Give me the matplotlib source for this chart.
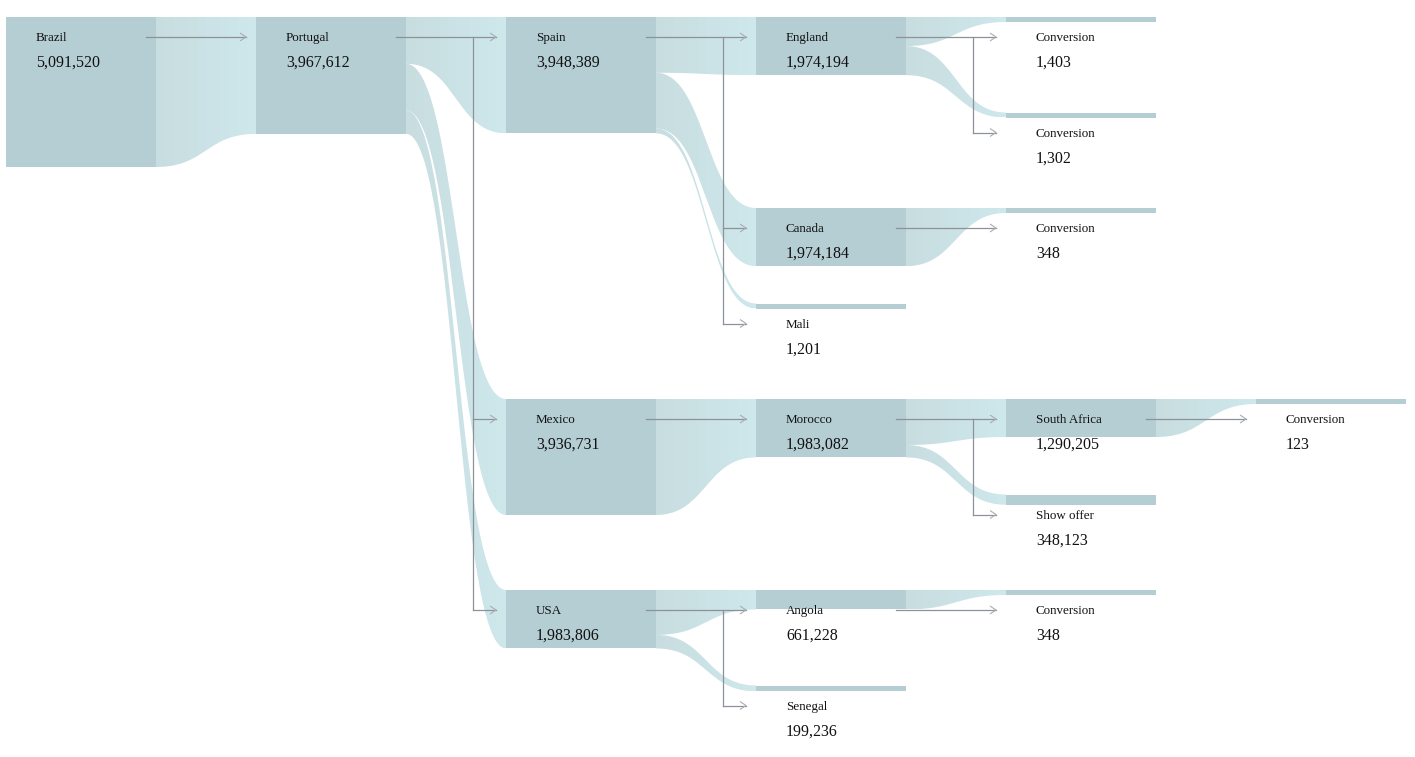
import numpy as np
import matplotlib
matplotlib.use("Agg")
import matplotlib.pyplot as plt
from matplotlib.path import Path
from matplotlib.patches import PathPatch, Rectangle
from matplotlib.colors import LinearSegmentedColormap

# ---- data ----
names = ["Brazil", "Portugal", "Spain", "England", "Conversion", "Conversion",
         "Canada", "Conversion", "Mali", "Mexico", "Morocco", "South Africa",
         "Conversion", "Show offer", "USA", "Angola", "Conversion", "Senegal"]
values = [5091520, 3967612, 3948389, 1974194, 1403, 1302,
          1974184, 348, 1201, 3936731, 1983082, 1290205,
          123, 348123, 1983806, 661228, 348, 199236]
parents = [-1, 0, 1, 2, 3, 3, 2, 6, 2, 1, 9, 10, 11, 10, 1, 14, 15, 14]

# ---- style / layout ----
W, H = 1415, 757
NODE_W = 150
COL_STEP = 250
X0 = 6
TOP = 17
ROW_STEP = 95.5
MAX_H = 150
MIN_H = 5
NODE_COLOR = "#b5ced3"
LINK_LEFT = "#c8dde0"
LINK_RIGHT = "#cee8ec"
LINE_COLOR = "#8d9298"
HEAD_COLOR = "#a9adb2"
SERIF = ["Liberation Serif", "DejaVu Serif"]

n = len(names)
children = [[] for _ in range(n)]
for i, p in enumerate(parents):
    if p >= 0:
        children[p].append(i)

depth = [0] * n
for i in range(n):
    if parents[i] >= 0:
        depth[i] = depth[parents[i]] + 1

# rows: tree layout (node row = row of its first leaf)
row = [0] * n
counter = [0]
def assign(i):
    if not children[i]:
        row[i] = counter[0]
        counter[0] += 1
    else:
        for k, c in enumerate(children[i]):
            assign(c)
        row[i] = row[children[i][0]]
assign(0)

vmax = max(values)
x = [X0 + depth[i] * COL_STEP for i in range(n)]
y = [TOP + row[i] * ROW_STEP for i in range(n)]
h = [max(MIN_H, values[i] / vmax * MAX_H) for i in range(n)]

fig = plt.figure(figsize=(W / 100, H / 100), dpi=100)
ax = fig.add_axes([0, 0, 1, 1])
ax.set_xlim(0, W)
ax.set_ylim(H, 0)
ax.axis("off")

cmap = LinearSegmentedColormap.from_list("lk", [LINK_LEFT, LINK_RIGHT])
grad = np.linspace(0, 1, 256).reshape(1, -1)

def bez(xa, ya, xb, yb, t):
    xm = (xa + xb) / 2
    bx = (1 - t) ** 3 * xa + 3 * (1 - t) ** 2 * t * xm + 3 * (1 - t) * t ** 2 * xm + t ** 3 * xb
    by = (1 - t) ** 3 * ya + 3 * (1 - t) ** 2 * t * ya + 3 * (1 - t) * t ** 2 * yb + t ** 3 * yb
    return bx, by

t = np.linspace(0, 1, 120)
for p in range(n):
    ch = children[p]
    if not ch:
        continue
    tot = sum(h[c] for c in ch)
    off = y[p]
    xs = x[p] + NODE_W
    for c in ch:
        sh = h[p] * h[c] / tot
        xt = x[c]
        tx, ty = bez(xs, off, xt, y[c], t)
        bx, by = bez(xs, off + sh, xt, y[c] + h[c], t)
        verts = np.vstack([np.column_stack([tx, ty]), np.column_stack([bx[::-1], by[::-1]])])
        path = Path(verts, closed=False)
        patch = PathPatch(path, facecolor="none", edgecolor="none")
        ax.add_patch(patch)
        ymin, ymax = verts[:, 1].min(), verts[:, 1].max()
        im = ax.imshow(grad, cmap=cmap, extent=(xs, xt, ymax, ymin), aspect="auto",
                       interpolation="bilinear", zorder=1)
        im.set_clip_path(patch)
        off += sh

for i in range(n):
    ax.add_patch(Rectangle((x[i], y[i]), NODE_W, h[i], facecolor=NODE_COLOR,
                           edgecolor="none", zorder=2))

def head(xt, yt):
    ax.plot([xt - 6, xt, xt - 6], [yt - 4, yt, yt + 4], color=HEAD_COLOR, lw=0.8,
            zorder=4, solid_capstyle="butt")

for p in range(n):
    ch = children[p]
    if not ch:
        continue
    ya = y[p] + 20
    xt = x[ch[0]] - 10
    ax.plot([x[p] + NODE_W - 10, xt], [ya, ya], color=LINE_COLOR, lw=0.9, zorder=3)
    head(xt, ya)
    if len(ch) > 1:
        xv = x[ch[0]] - 33
        ylast = y[ch[-1]] + 20
        ax.plot([xv, xv], [ya, ylast], color=LINE_COLOR, lw=0.9, zorder=3)
        for c in ch[1:]:
            yc = y[c] + 20
            ax.plot([xv, xt], [yc, yc], color=LINE_COLOR, lw=0.9, zorder=3)
            head(xt, yc)

for i in range(n):
    ax.text(x[i] + 30, y[i] + 24.3, names[i], family=SERIF, fontsize=9.4,
            color="#111111", va="baseline", ha="left", zorder=5)
    ax.text(x[i] + 30, y[i] + 50, f"{values[i]:,}", family=SERIF, fontsize=11.5,
            color="#111111", va="baseline", ha="left", zorder=5)

fig.savefig("out.png", dpi=100, facecolor="white")
